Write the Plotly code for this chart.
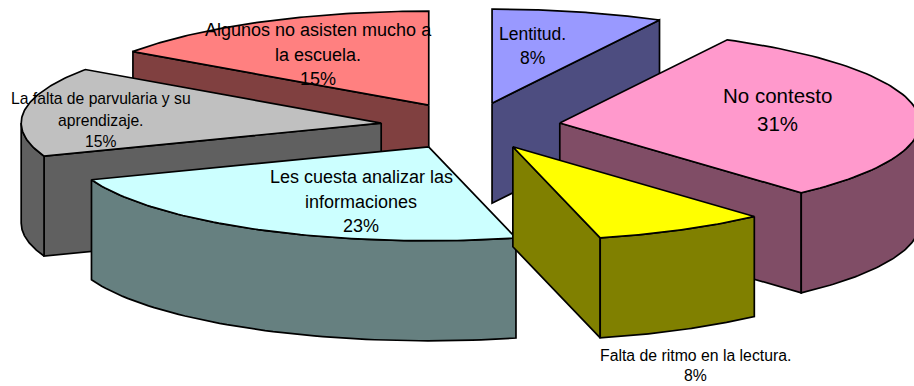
import numpy as np
import plotly.graph_objects as go

# slices in clockwise order from 12 o'clock
categories = ['Lentitud.', 'No contesto', 'Falta de ritmo en la lectura.',
              'Les cuesta analizar las informaciones',
              'La falta de parvularia y su aprendizaje.',
              'Algunos no asisten mucho a la escuela.']
# the printed labels round these to 8, 31, 8, 23, 15, 15
shares = [7.7, 30.6, 7.8, 23.2, 15.35, 15.35]
pct_labels = ['8%', '31%', '8%', '23%', '15%', '15%']
label_lines = [
    ['Lentitud.'],
    ['No contesto'],
    ['Falta de ritmo en la lectura.'],
    ['Les cuesta analizar las', 'informaciones'],
    ['La falta de parvularia y su', 'aprendizaje.'],
    ['Algunos no asisten mucho a', 'la escuela.'],
]

top_colors = ['#9999FF', '#FF99CC', '#FFFF00', '#CCFFFF', '#C0C0C0', '#FF8080']
side_colors = ['#4D4D80', '#804D66', '#808000', '#668080', '#606060', '#804040']

# pie geometry, in page pixels
CX, CY = 470.5, 126
RX, RY = 360, 94
DEPTH = 100
EXPLODE = 0.25

# label anchors: centre x, then the y of each line, font size
label_x = [532, 777, 695, 361, 100.5, 318]
label_y = [[34, 58], [95, 123], [355, 375], [177, 202, 226], [98, 120, 141.5], [30, 55, 79]]
label_size = [17.5, 20.5, 15.8, 18, 15.7, 18]

# paint order, back of the pie first
draw_order = [5, 0, 4, 1, 3, 2]


def point(theta, ox, oy):
    return ox + RX * np.sin(theta), oy - RY * np.cos(theta)


def add_poly(fig, xs, ys, color):
    fig.add_trace(go.Scatter(
        x=list(xs) + [xs[0]], y=list(ys) + [ys[0]],
        mode='lines', fill='toself', fillcolor=color,
        line=dict(color='black', width=1.7),
        hoverinfo='skip', showlegend=False,
    ))


fig = go.Figure()

edges = np.radians(np.cumsum([0] + shares) / sum(shares) * 360)

for i in draw_order:
    t0, t1 = edges[i], edges[i + 1]
    mid = (t0 + t1) / 2
    ox = CX + EXPLODE * RX * np.sin(mid)
    oy = CY - EXPLODE * RY * np.cos(mid)

    # cut faces, only the ones turned towards the viewer
    for t, visible in ((t0, np.sin(t0) < 0), (t1, np.sin(t1) > 0)):
        if visible:
            ex, ey = point(t, ox, oy)
            add_poly(fig, [ox, ex, ex, ox], [oy, ey, ey + DEPTH, oy + DEPTH], side_colors[i])

    # outer wall, only the part that faces the viewer
    f0, f1 = max(t0, np.pi / 2), min(t1, 3 * np.pi / 2)
    if f1 > f0:
        arc = np.linspace(f0, f1, 60)
        ax, ay = point(arc, ox, oy)
        add_poly(fig, np.r_[ax, ax[::-1]], np.r_[ay, ay[::-1] + DEPTH], side_colors[i])

    # top face
    arc = np.linspace(t0, t1, 80)
    ax, ay = point(arc, ox, oy)
    add_poly(fig, np.r_[ox, ax], np.r_[oy, ay], top_colors[i])

for i in range(len(categories)):
    lines = label_lines[i] + [pct_labels[i]]
    for text, y in zip(lines, label_y[i]):
        fig.add_annotation(
            x=label_x[i], y=y, text=text, showarrow=False,
            xanchor='center', yanchor='middle',
            font=dict(family='Liberation Sans, Arial, sans-serif', size=label_size[i], color='black'),
        )

fig.update_xaxes(range=[0, 914], visible=False, fixedrange=True)
fig.update_yaxes(range=[386, 0], visible=False, fixedrange=True)
fig.update_layout(
    width=914, height=386, autosize=False,
    margin=dict(l=0, r=0, t=0, b=0),
    paper_bgcolor='white', plot_bgcolor='white',
)

fig.write_html('out.html', config={'displayModeBar': False},
               post_script="document.body.style.margin='0';document.body.style.overflow='hidden';")
